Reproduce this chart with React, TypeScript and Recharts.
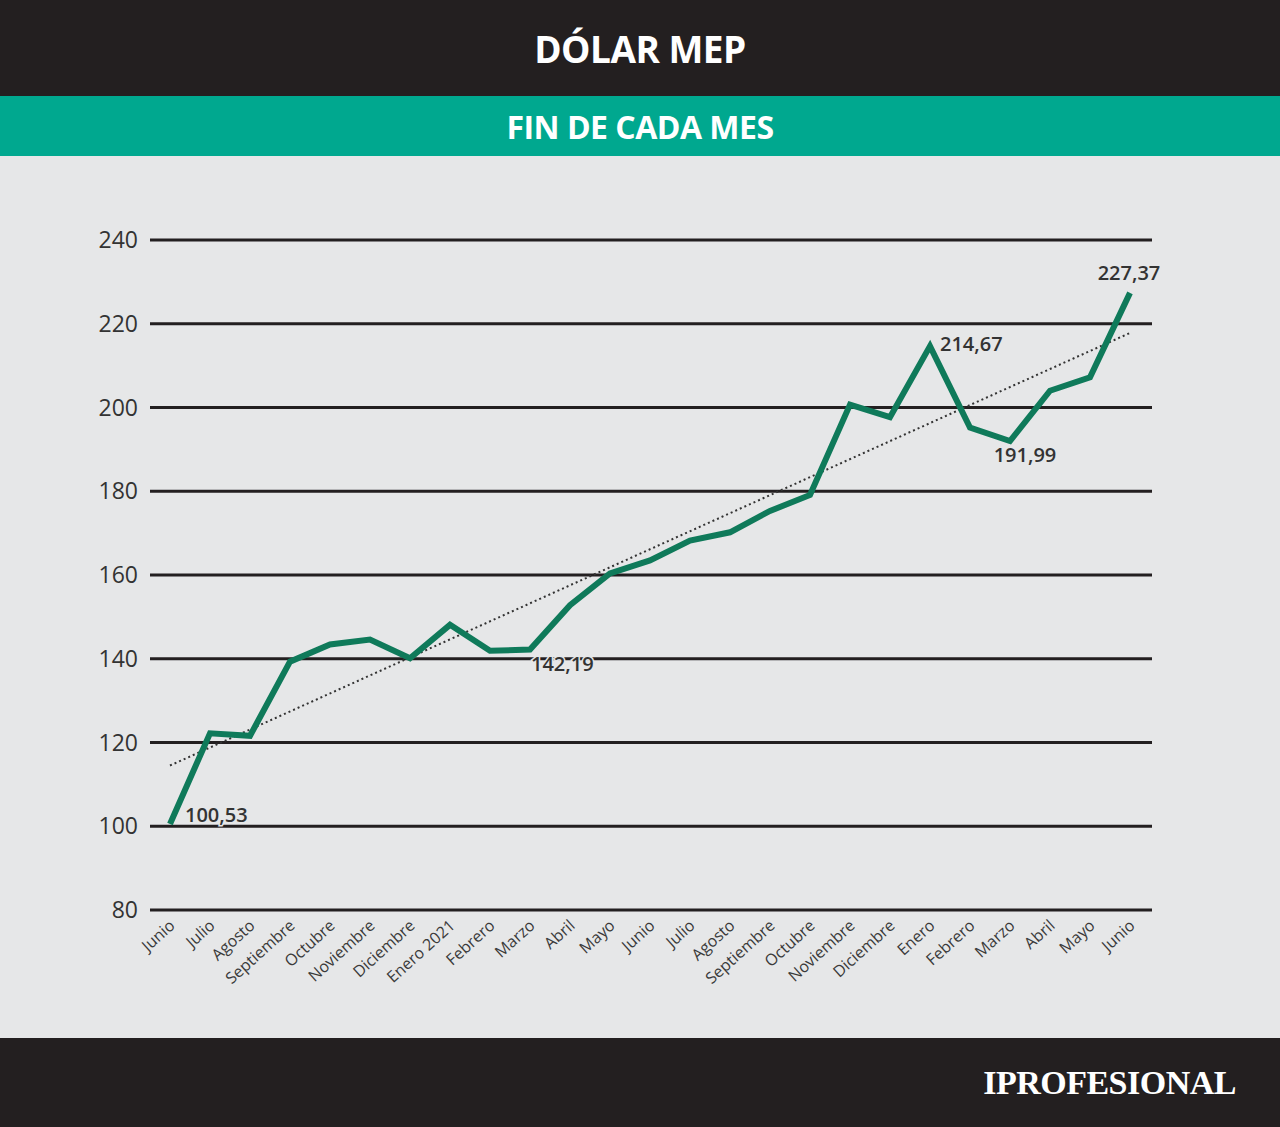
import React from 'react';
import { LineChart, Line, XAxis, YAxis, CartesianGrid, LabelList } from 'recharts';

const months = [
  'Junio', 'Julio', 'Agosto', 'Septiembre', 'Octubre', 'Noviembre', 'Diciembre',
  'Enero 2021', 'Febrero', 'Marzo', 'Abril', 'Mayo', 'Junio', 'Julio', 'Agosto',
  'Septiembre', 'Octubre', 'Noviembre', 'Diciembre', 'Enero', 'Febrero', 'Marzo',
  'Abril', 'Mayo', 'Junio'
];
const mep = [
  100.53, 122.2, 121.6, 139.3, 143.4, 144.6, 140.1, 148.1, 141.9, 142.19, 152.8,
  160.4, 163.5, 168.2, 170.2, 175.3, 179.1, 200.7, 197.7, 214.67, 195.2, 191.99,
  204.0, 207.2, 227.37
];
// dotted trend line, start and end
const trendEnds = [114.5, 217.8];
const yTicks = [80, 100, 120, 140, 160, 180, 200, 220, 240];
// points that carry a value label
const labelled = [0, 9, 19, 21, 24];

const data = months.map((month, i) => ({
  month,
  mep: mep[i],
  trend: i === 0 ? trendEnds[0] : i === months.length - 1 ? trendEnds[1] : null,
  label: labelled.includes(i) ? mep[i].toFixed(2).replace('.', ',') : ''
}));

// where each callout sits relative to its point
const labelPos: Record<number, { dx: number; dy: number; anchor: string }> = {
  0: { dx: 15, dy: -10, anchor: 'start' },
  9: { dx: 1, dy: 14, anchor: 'start' },
  19: { dx: 10, dy: -3, anchor: 'start' },
  21: { dx: 15, dy: 13, anchor: 'middle' },
  24: { dx: -1, dy: -20, anchor: 'middle' }
};

const font = '"Open Sans", "Noto Sans", sans-serif';

const MonthTick = ({ x, y, payload }: any) => {
  const ax = x + 6;
  const ay = y + 17;
  return (
    <text
      x={ax}
      y={ay}
      transform={`rotate(-42, ${ax}, ${ay})`}
      textAnchor="end"
      fontSize={16}
      fontFamily={font}
      fill="#3a3a3a"
    >
      {payload.value}
    </text>
  );
};

const Callout = (props: any) => {
  const { x, y, index, value } = props;
  if (!value) return null;
  const p = labelPos[index] || { dx: 0, dy: -12, anchor: 'middle' };
  return (
    <text
      x={x + p.dx}
      y={y + p.dy}
      textAnchor={p.anchor}
      dominantBaseline="central"
      fontSize={20}
      fontWeight={600}
      fontFamily={font}
      fill="#333"
      stroke="#e6e7e8"
      strokeWidth={3}
      paintOrder="stroke"
    >
      {value}
    </text>
  );
};

export default function App() {
  return (
    <div
      style={{
        position: 'absolute',
        top: 0,
        left: 0,
        width: 1280,
        height: 1127,
        background: '#e6e7e8',
        fontFamily: font
      }}
    >
      <div
        style={{
          height: 96,
          background: '#231f20',
          color: '#fff',
          display: 'flex',
          alignItems: 'center',
          justifyContent: 'center',
          fontSize: 37,
          fontWeight: 700,
          letterSpacing: -0.5
        }}
      >
        DÓLAR MEP
      </div>
      <div
        style={{
          height: 60,
          background: '#00a88f',
          color: '#fff',
          display: 'flex',
          alignItems: 'center',
          justifyContent: 'center',
          fontSize: 32,
          fontWeight: 700,
          letterSpacing: -0.5
        }}
      >
        FIN DE CADA MES
      </div>
      <LineChart
        width={1280}
        height={882}
        data={data}
        margin={{ top: 84, right: 128, left: 0, bottom: 0 }}
      >
        <CartesianGrid horizontal vertical={false} stroke="#231f20" strokeWidth={3} />
        <XAxis
          dataKey="month"
          height={128}
          axisLine={false}
          tickLine={false}
          tickSize={0}
          tickMargin={0}
          interval={0}
          padding={{ left: 20, right: 22 }}
          tick={<MonthTick />}
        />
        <YAxis
          width={150}
          domain={[80, 240]}
          ticks={yTicks}
          axisLine={false}
          tickLine={false}
          tickSize={0}
          tickMargin={12}
          tick={{ fill: '#333', fontSize: 23, fontFamily: font }}
        />
        <Line
          type="linear"
          dataKey="trend"
          connectNulls
          stroke="#333"
          strokeWidth={2}
          strokeDasharray="2 3"
          dot={false}
          isAnimationActive={false}
        />
        <Line
          type="linear"
          dataKey="mep"
          stroke="#0f7a5a"
          strokeWidth={6}
          dot={false}
          isAnimationActive={false}
        >
          <LabelList dataKey="label" content={<Callout />} />
        </Line>
      </LineChart>
      <div
        style={{
          position: 'absolute',
          left: 0,
          top: 1038,
          width: 1280,
          height: 89,
          background: '#231f20'
        }}
      >
        <div
          style={{
            position: 'absolute',
            right: 44,
            top: 26,
            color: '#fff',
            fontFamily: '"Liberation Serif", "DejaVu Serif", serif',
            fontWeight: 700,
            fontSize: 34,
            letterSpacing: -0.5
          }}
        >
          IPROFESIONAL
        </div>
      </div>
    </div>
  );
}
